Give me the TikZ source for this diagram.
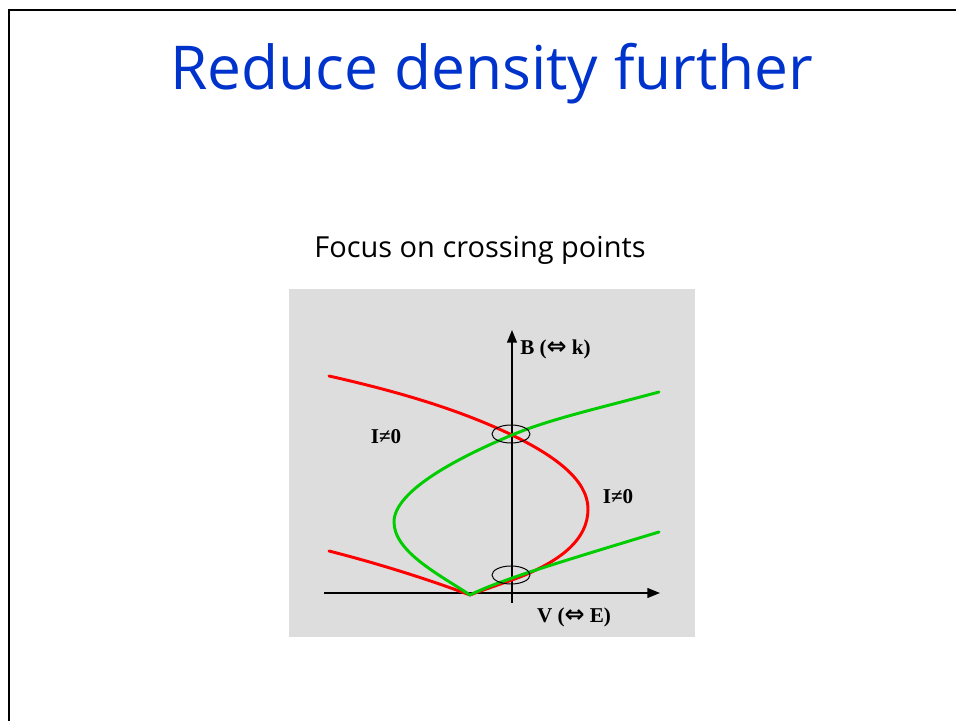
\documentclass[tikz,border=0pt]{standalone}
\usepackage{fontspec}
\setmainfont{Liberation Serif}
\newfontfamily\slidefont{Open Sans}
\newfontfamily\arrowfont{DejaVu Sans}
\usetikzlibrary{arrows.meta,shapes.geometric}
\definecolor{slideblue}{RGB}{0,51,204}
\definecolor{panelgray}{RGB}{221,221,221}
\definecolor{curvered}{RGB}{255,0,0}
\definecolor{curvegreen}{RGB}{0,204,0}
\tikzset{
  axis/.style={line width=1.1pt,-{Triangle[length=9pt,width=7pt]}},
  redcurve/.style={curvered,line width=2.1pt,line cap=round},
  greencurve/.style={curvegreen,line width=2.1pt,line cap=round},
  ring/.style={ellipse,draw,line width=0.7pt,minimum width=0.95cm,minimum height=0.45cm,inner sep=0pt},
  axislabel/.style={font=\fontsize{15}{17}\selectfont\bfseries,inner sep=0pt},
}
\newcommand{\dblarrow}{{\arrowfont\bfseries\fontsize{17}{17}\selectfont ⇔}}

\begin{document}
\begin{tikzpicture}[x=0.025cm,y=-0.025cm]
\useasboundingbox (0,0) rectangle (956,721);
% slide frame and headings
\draw[line width=1.6pt] (9,730) -- (9,10) -- (965,10);
\node[slideblue,font=\slidefont\fontsize{43}{48}\selectfont,anchor=base] (title) at (492,90) {Reduce density further};
\node[font=\slidefont\fontsize{20.6}{24}\selectfont,anchor=base] (sub) at (480,258) {Focus on crossing points};

% panel
\fill[panelgray] (289,289) rectangle (695,637);
\coordinate (xs) at (324,593);
\coordinate (xe) at (660,593);
\coordinate (ys) at (512,603);
\coordinate (ye) at (512,330);
\draw[axis] (xs) -- (xe);
\draw[axis] (ys) -- (ye);
\node[axislabel,anchor=west] (blab) at (520,349) {B (\dblarrow{} k)};
\node[axislabel] (vlab) at (574,617) {V (\dblarrow{} E)};

% curves
\draw[redcurve] (329,376) .. controls (400,392) and (460,410) .. (512,435)
  .. controls (555,456) and (588,480) .. (588,509)
  .. controls (588,540) and (560,560) .. (525,575)
  .. controls (505,583) and (485,589) .. (470,595);
\draw[redcurve] (329,551) .. controls (380,564) and (430,580) .. (470,595);
\draw[greencurve] (659,392) .. controls (600,408) and (550,419) .. (512,435)
  .. controls (462,456) and (394,490) .. (394,522)
  .. controls (394,552) and (440,575) .. (470,595);
\draw[greencurve] (470,595) .. controls (500,580) and (560,562) .. (659,532);

% crossing points
\node[ring] (up) at (511,434) {};
\node[ring] (lo) at (511,575) {};
\node[axislabel] (ileft) at (386,437) {I≠0};
\node[axislabel] (iright) at (618,497) {I≠0};
\end{tikzpicture}
\end{document}
